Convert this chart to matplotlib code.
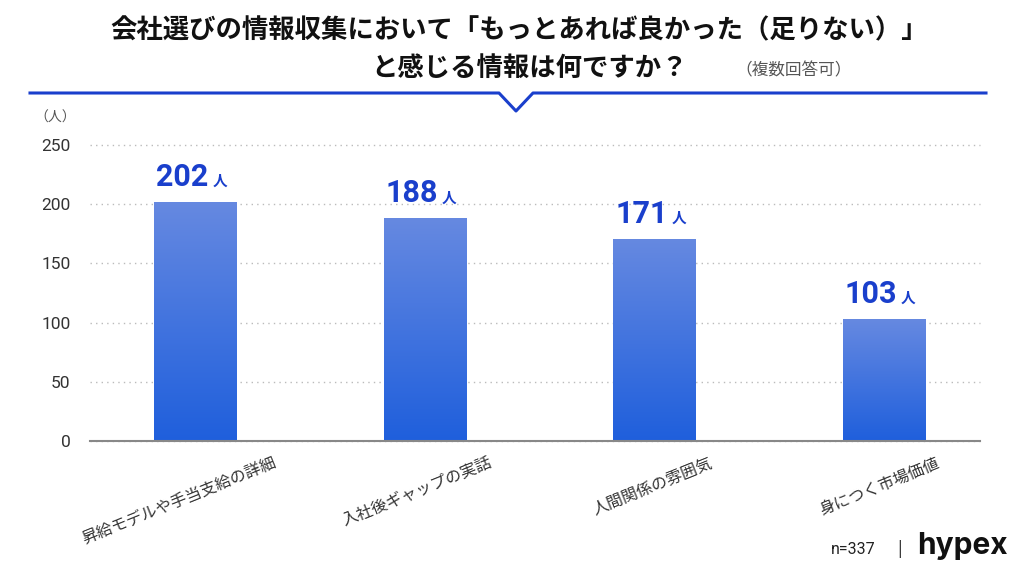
import numpy as np
import matplotlib
matplotlib.use("Agg")
import matplotlib.pyplot as plt
from matplotlib.colors import LinearSegmentedColormap
from matplotlib.lines import Line2D

plt.rcParams['font.family'] = ['Noto Sans CJK JP', 'DejaVu Sans']

# data
categories = ['昇給モデルや手当支給の詳細', '入社後ギャップの実話', '人間関係の雰囲気', '身につく市場価値']
counts = [202, 188, 171, 103]
yticks = [0, 50, 100, 150, 200, 250]

title1 = '会社選びの情報収集において「もっとあれば良かった（足りない）」'
title2 = 'と感じる情報は何ですか？'
note = '（複数回答可）'

blue = '#1a3fcc'
grad = LinearSegmentedColormap.from_list('bar', ['#1f5fdc', '#6689e1'])

W, H = 1024, 576
fig = plt.figure(figsize=(W / 100, H / 100), dpi=100)
fig.patch.set_facecolor('white')

def fx(px):
    return px / W

def fy(py):
    return 1 - py / H

ax = fig.add_axes([fx(90), fy(441), fx(980) - fx(90), fy(145) - fy(441)])

x = np.arange(len(categories))
bars = ax.bar(x, counts, width=0.36, color='none', zorder=2)

# gradient fill per bar
g = np.linspace(0, 1, 256).reshape(-1, 1)
for b in bars:
    x0, w, h = b.get_x(), b.get_width(), b.get_height()
    im = ax.imshow(g, extent=[x0, x0 + w, 0, h], origin='lower', cmap=grad,
                   aspect='auto', zorder=2)
    im.set_clip_path(b)

ax.set_xlim(-0.46, 3.418)
ax.set_ylim(0, 250)

# value labels
for xi, v in zip(x, counts):
    ax.annotate(str(v), (xi, v), xytext=(13, 16), textcoords='offset pixels',
                ha='right', va='baseline', fontsize=22, fontweight='bold',
                color=blue, family=['Roboto', 'DejaVu Sans'])
    ax.annotate('人', (xi, v), xytext=(17, 16), textcoords='offset pixels',
                ha='left', va='baseline', fontsize=10.5, fontweight='bold',
                color=blue)

for s in ['top', 'right', 'left']:
    ax.spines[s].set_visible(False)
ax.spines['bottom'].set_color('#888888')
ax.spines['bottom'].set_linewidth(1.5)

ax.set_yticks(yticks)
ax.set_yticklabels([str(t) for t in yticks], family=['Roboto', 'DejaVu Sans'])
ax.tick_params(axis='y', length=0, pad=14, labelsize=12.5, labelcolor='#333333')
ax.yaxis.grid(True, linestyle=(0, (1, 3)), color='#bbbbbb', linewidth=1)
ax.set_axisbelow(True)
for gl in ax.get_ygridlines():
    gl.set_clip_on(False)

ax.set_xticks(x)
ax.set_xticklabels(categories, rotation=22, ha='center', va='top')
ax.tick_params(axis='x', length=0, pad=10, labelsize=11.5, labelcolor='#333333')
for lbl, dx in zip(ax.get_xticklabels(), [-16, -8, -2, -5]):
    lbl.set_transform(lbl.get_transform() + matplotlib.transforms.Affine2D().translate(dx, 0))

fig.text(fx(55), fy(118), '（人）', ha='center', va='center', fontsize=10,
         color='#555555')

# title
fig.text(fx(519), fy(31), title1, ha='center', va='center', fontsize=19,
         fontweight='bold', color='#111111')
fig.text(fx(530), fy(68), title2, ha='center', va='center', fontsize=19,
         fontweight='bold', color='#111111')
fig.text(fx(794), fy(71), note, ha='center', va='center', fontsize=12,
         color='#555555')

# header rule with notch
lx = [30, 499, 516, 533, 986]
ly = [93, 93, 111, 93, 93]
fig.add_artist(Line2D([fx(v) for v in lx], [fy(v) for v in ly],
                      transform=fig.transFigure, color=blue, linewidth=2.2))

# footer
fig.text(fx(876), fy(549), 'n=337', ha='right', va='center', fontsize=11.5,
         color='#222222', family=['Roboto', 'DejaVu Sans'])
fig.text(fx(900), fy(549), '|', ha='center', va='center', fontsize=12,
         color='#222222')
fig.text(fx(917), fy(546), 'hypex', ha='left', va='center', fontsize=21.5,
         fontweight='bold', color='#111111', family=['Inter', 'DejaVu Sans'])

fig.savefig('out.png', dpi=100, facecolor='white')
